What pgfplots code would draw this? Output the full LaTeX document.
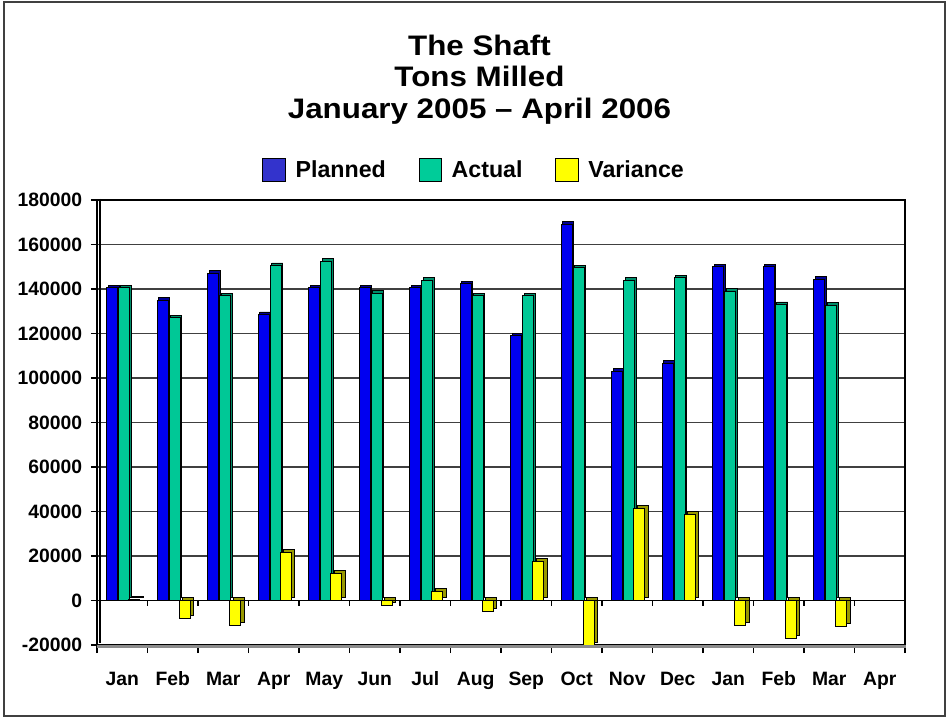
\documentclass[border=0pt]{standalone}
\usepackage{fontspec}
\setmainfont{Liberation Sans}
\usepackage{graphicx}
\usepackage{pgfplots}
\usepackage{pgfplotstable}
\pgfplotsset{compat=1.18}
\definecolor{plannedbar}{RGB}{0,0,240}
\definecolor{plannedside}{RGB}{0,0,150}
\definecolor{plannedleg}{RGB}{51,51,204}
\definecolor{actualbar}{RGB}{0,200,150}
\definecolor{actualside}{RGB}{0,140,105}
\definecolor{actualleg}{RGB}{0,204,153}
\definecolor{varbar}{RGB}{255,255,0}
\definecolor{varside}{RGB}{153,153,0}
\definecolor{gridc}{RGB}{64,64,64}

\pgfplotstableread{
x planned actual variance
0  140500 140500 500
1  135000 127000 -8000
2  147000 137000 -11000
3  128500 150500 21500
4  140500 152500 12000
5  140500 138000 -2000
6  140500 144000 4000
7  142300 137000 -5000
8  119000 137000 17500
9  169000 149500 -20000
10 103000 144000 41500
11 106500 145000 38700
12 150000 139000 -11000
13 150000 133000 -17000
14 144300 132600 -11700
}\datatable

\pgfplotsset{
  legbox/.style={legend image code/.code={
    \draw[fill=#1, draw=black, line width=0.7pt] (0pt,-8.6pt) rectangle (17.2pt,8.6pt);
    \path[draw=none, fill=none] (0pt,0pt) rectangle (22.5pt,0.1pt);}}
}

\begin{document}
\begin{tikzpicture}[x=0.75pt,y=0.75pt]
\path[fill=white] (0,0) rectangle (947,719);
\draw[black!75, line width=0.8pt] (4,3) rectangle (945,717);

\begin{axis}[
  at={(72.75pt,55.5pt)}, anchor=south west,
  scale only axis, width=606pt, height=333.75pt,
  xmin=-0.5, xmax=15.5, ymin=-20000, ymax=180000,
  ybar=0pt, bar width=0.218,
  xtick={0,1,2,3,4,5,6,7,8,9,10,11,12,13,14,15},
  xticklabels={Jan,Feb,Mar,Apr,May,Jun,Jul,Aug,Sep,Oct,Nov,Dec,Jan,Feb,Mar,Apr},
  minor xtick={-0.5,0.5,1.5,2.5,3.5,4.5,5.5,6.5,7.5,8.5,9.5,10.5,11.5,12.5,13.5,14.5,15.5},
  ytick={-20000,0,20000,40000,60000,80000,100000,120000,140000,160000,180000},
  scaled y ticks=false,
  yticklabel={\pgfmathprintnumber[fixed,precision=0,1000 sep={}]{\tick}},
  tick align=outside, xtick pos=bottom, ytick pos=left,
  major tick length=4.5pt,
  minor tick length=6pt,
  x tick style={draw=none},
  minor x tick style={draw=black, line width=0.9pt},
  y tick style={draw=black, line width=0.9pt},
  ymajorgrids, grid style={gridc, line width=0.9pt},
  axis line style={black, line width=1pt},
  /pgf/number format/1000 sep={},
  /pgf/number format/assume math mode=true,
  xticklabel style={font=\fontsize{14.5}{16}\selectfont\bfseries, anchor=base, yshift=-25.5pt},
  yticklabel style={font=\fontsize{14.5}{16}\selectfont\bfseries, anchor=east, inner sep=0pt, xshift=-6.5pt},
  legend columns=3,
  legend style={draw=none, fill=none, at={(0.4672,1.0674)}, anchor=center,
    font=\fontsize{17.4}{20}\selectfont\bfseries,
    /tikz/every even column/.append style={column sep=22.5pt}},
  legend cell align=left,
]
% back faces (3D depth)
\addplot[forget plot, fill=plannedside, draw=black, line width=0.6pt, bar shift=-0.198, xshift=1.2pt, yshift=2pt] table[x=x,y=planned] {\datatable};
\addplot[forget plot, fill=actualside, draw=black, line width=0.6pt, bar shift=0.04, xshift=1.2pt, yshift=2pt] table[x=x,y=actual] {\datatable};
\addplot[forget plot, fill=varside, draw=black, line width=0.6pt, bar shift=0.238, xshift=2.5pt, yshift=2.2pt] table[x=x,y=variance] {\datatable};
% front faces
\addplot[forget plot, fill=plannedbar, draw=black, line width=0.7pt, bar shift=-0.198] table[x=x,y=planned] {\datatable};
\addplot[forget plot, fill=actualbar, draw=black, line width=0.7pt, bar shift=0.04] table[x=x,y=actual] {\datatable};
\addplot[forget plot, fill=varbar, draw=black, line width=0.6pt, bar shift=0.238] table[x=x,y=variance] {\datatable};
% zero floor line with ticks
\draw[black, line width=1.2pt] (axis cs:-0.5,0) -- (axis cs:15.5,0);
\pgfplotsinvokeforeach{-0.5,0.5,1.5,2.5,3.5,4.5,5.5,6.5,7.5,8.5,9.5,10.5,11.5,12.5,13.5,14.5,15.5}{\draw[black, line width=0.9pt] (axis cs:#1,0) -- ++(0pt,-4pt);}
\addlegendimage{legbox=plannedleg}\addlegendentry{Planned}
\addlegendimage{legbox=actualleg}\addlegendentry{Actual}
\addlegendimage{legbox=varbar}\addlegendentry{Variance}
\end{axis}
% floor thickness and back wall
\fill[black!45] (97,74) rectangle (906,71);
\draw[black, line width=0.8pt] (100,520) -- (100,76);

\node[anchor=base, font=\fontsize{23.5}{28}\selectfont\bfseries] at (479.5,663) {\scalebox{1}[0.9]{The Shaft}};
\node[anchor=base, font=\fontsize{23.5}{28}\selectfont\bfseries] at (479.5,632) {\scalebox{1}[0.9]{Tons Milled}};
\node[anchor=base, font=\fontsize{23.5}{28}\selectfont\bfseries] at (479.5,600) {\scalebox{1}[0.9]{January 2005 – April 2006}};
\end{tikzpicture}
\end{document}
